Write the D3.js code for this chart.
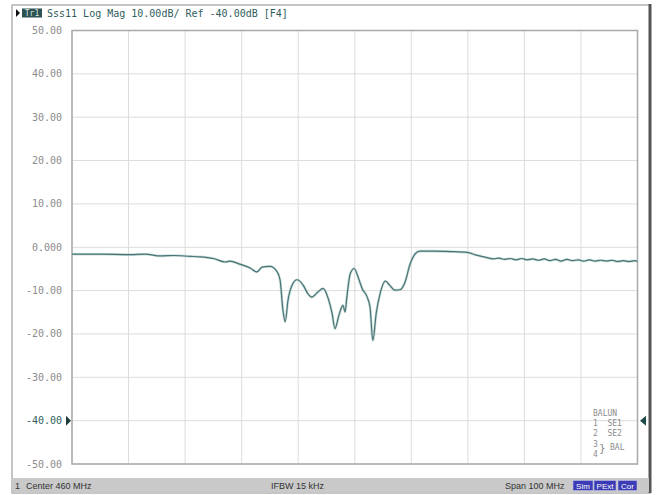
<!DOCTYPE html>
<html>
<head>
<meta charset="utf-8">
<script src="https://cdn.jsdelivr.net/npm/d3@7"></script>
<style>
  body { margin: 0; background: #fff; }
  text { font-family: "DejaVu Sans Mono", monospace; }
</style>
</head>
<body>
<div id="vis"></div>
<script>
// trace: frequency (MHz) and magnitude (dB)
let freqs = [410.0, 415.0, 420.3, 423.0, 425.6, 428.0, 430.9, 432.6, 435.0, 437.1, 437.9, 439.7,
  441.5, 442.7, 443.6, 445.0, 446.3, 446.8, 447.3, 447.7, 448.2, 448.9, 449.8, 450.9, 451.7,
  452.4, 453.5, 454.4, 455.3, 456.0, 456.5, 457.2, 457.9, 458.3, 458.6, 459.2, 459.9, 460.6,
  461.3, 462.2, 462.7, 463.2, 463.8, 464.5, 465.4, 466.2, 467.1, 468.0, 468.9, 469.8, 470.7,
  471.5, 473.8, 477.0, 479.9, 481.5, 483.4, 484.5, 485.5, 486.5, 487.5, 488.5, 489.5, 490.5,
  491.5, 492.5, 493.5, 494.5, 495.5, 496.5, 497.5, 498.5, 499.5, 500.5, 501.5, 502.5, 503.5,
  504.5, 505.5, 506.5, 507.5, 508.5, 509.5, 510.0];
let mags = [-1.6, -1.6, -1.7, -1.6, -2.0, -1.9, -2.1, -2.2, -2.6, -3.4, -3.2, -3.9,
  -4.8, -5.7, -4.6, -4.4, -5.7, -7.6, -14.5, -17.2, -12.2, -8.8, -7.5, -8.8, -10.7,
  -11.5, -10.3, -9.5, -11.8, -15.3, -18.8, -15.7, -13.4, -14.9, -11.5, -6.1, -4.9, -6.9,
  -9.5, -11.5, -13.8, -21.5, -15.2, -10.6, -7.8, -8.8, -9.9, -9.8, -8.0, -3.8, -1.5,
  -0.9, -0.9, -1.0, -1.2, -1.8, -2.4, -2.7, -2.5, -2.8, -2.6, -2.9, -2.6, -2.9,
  -2.7, -3.0, -2.7, -3.1, -2.8, -3.2, -2.8, -3.1, -2.9, -3.2, -2.9, -3.2, -3.0,
  -3.2, -3.0, -3.3, -3.1, -3.3, -3.1, -3.3];

let yTicks = [50, 40, 30, 20, 10, 0, -10, -20, -30, -40, -50];
let yTickLabels = ['50.00', '40.00', '30.00', '20.00', '10.00', '0.000', '-10.00', '-20.00', '-30.00', '-40.00', '-50.00'];
let xTicks = [410, 420, 430, 440, 450, 460, 470, 480, 490, 500, 510];
let refLevel = -40;
let legendLines = ['BALUN', '1  SE1', '2  SE2'];

let width = 656, height = 495;
let plot = { left: 72, right: 637.5, top: 30.5, bottom: 464 };

let svg = d3.select('#vis').append('svg')
  .attr('width', width)
  .attr('height', height);

// outer frame
svg.append('rect').attr('x', 12).attr('y', 5).attr('width', 638).attr('height', 488)
  .style('fill', '#fff').style('stroke', '#b4b4b4').style('stroke-width', 1.5);
svg.append('line').attr('x1', 650).attr('x2', 650).attr('y1', 4).attr('y2', 493)
  .style('stroke', '#555').style('stroke-width', 3);

let xScale = d3.scaleLinear().domain([410, 510]).range([plot.left, plot.right]);
let yScale = d3.scaleLinear().domain([-50, 50]).range([plot.bottom, plot.top]);

// grid
let grid = svg.append('g');
grid.selectAll('.vg').data(xTicks).enter().append('line')
  .attr('x1', d => xScale(d)).attr('x2', d => xScale(d))
  .attr('y1', plot.top).attr('y2', plot.bottom)
  .style('stroke', '#dcdcdc').style('stroke-width', 1);
grid.selectAll('.hg').data(yTicks).enter().append('line')
  .attr('x1', plot.left).attr('x2', plot.right)
  .attr('y1', d => yScale(d)).attr('y2', d => yScale(d))
  .style('stroke', '#dcdcdc').style('stroke-width', 1);
svg.append('rect')
  .attr('x', plot.left).attr('y', plot.top)
  .attr('width', plot.right - plot.left).attr('height', plot.bottom - plot.top)
  .style('fill', 'none').style('stroke', '#a8a8a8').style('stroke-width', 1.5);

// y labels
svg.selectAll('.yl').data(yTicks).enter().append('text')
  .attr('x', 62).attr('y', d => yScale(d) + 3.5)
  .attr('text-anchor', 'end')
  .style('font-size', '10px')
  .style('fill', d => d === refLevel ? '#2f5d5d' : '#8c8c8c')
  .text((d, i) => yTickLabels[i]);

// reference markers
let ry = yScale(refLevel);
svg.append('path')
  .attr('d', `M66,${ry - 5}L71,${ry}L66,${ry + 5}Z`)
  .style('fill', '#1e3c3c');
svg.append('path')
  .attr('d', `M646,${ry - 5}L640,${ry}L646,${ry + 5}Z`)
  .style('fill', '#1e4a4a');

// trace
let pts = freqs.map((f, i) => ({ x: f, y: mags[i] }));
let line = d3.line().x(d => xScale(d.x)).y(d => yScale(d.y)).curve(d3.curveMonotoneX);
svg.append('path').attr('d', line(pts))
  .style('fill', 'none').style('stroke', '#a9c2c2').style('stroke-width', 2.6).style('opacity', 0.6);
svg.append('path').attr('d', line(pts))
  .style('fill', 'none').style('stroke', '#477474').style('stroke-width', 1.2);

// title bar
svg.append('path').attr('d', 'M16,9L20,13L16,17Z').style('fill', '#111');
svg.append('rect').attr('x', 22).attr('y', 8.5).attr('width', 20).attr('height', 9)
  .style('fill', '#2e5252');
svg.append('text').attr('x', 32).attr('y', 16).attr('text-anchor', 'middle')
  .style('font-size', '8px').style('fill', '#d0e0e0').text('Tr1');
svg.append('text').attr('x', 47).attr('y', 17)
  .style('font-size', '10px').style('fill', '#2f5d5d')
  .text('Sss11 Log Mag 10.00dB/ Ref -40.00dB [F4]');

// legend box text
let lg = svg.append('g').style('font-size', '8px').style('fill', '#8c8c8c');
lg.selectAll('text').data(legendLines).enter().append('text')
  .attr('x', 593).attr('y', (d, i) => 416 + i * 10)
  .attr('xml:space', 'preserve')
  .text(d => d);
lg.append('text').attr('x', 593).attr('y', 446.5).text('3');
lg.append('text').attr('x', 593).attr('y', 456.5).text('4');
lg.append('text').attr('x', 599).attr('y', 452).style('font-size', '11px').text('}');
lg.append('text').attr('x', 610).attr('y', 450).text('BAL');

// status bar
svg.append('rect').attr('x', 12).attr('y', 478).attr('width', 637).attr('height', 14)
  .style('fill', '#c9c9c9');
let sb = svg.append('g').style('font-size', '9px').style('fill', '#333');
sb.append('text').attr('x', 15).attr('y', 488.5).style('font-family', '"Liberation Sans", sans-serif').text('1');
sb.append('text').attr('x', 26).attr('y', 488.5).style('font-family', '"Liberation Sans", sans-serif').text('Center 460 MHz');
sb.append('text').attr('x', 271).attr('y', 488.5).style('font-family', '"Liberation Sans", sans-serif').text('IFBW 15 kHz');
sb.append('text').attr('x', 505).attr('y', 488.5).style('font-family', '"Liberation Sans", sans-serif').text('Span 100 MHz');

let flags = [{ t: 'Sim', x: 573, w: 20 }, { t: 'PExt', x: 594, w: 22 }, { t: 'Cor', x: 618, w: 19 }];
flags.forEach(f => {
  svg.append('rect').attr('x', f.x).attr('y', 480.5).attr('width', f.w).attr('height', 10)
    .style('fill', '#3b3bb5').style('stroke', '#c0c0e8').style('stroke-width', 0.6);
  svg.append('text').attr('x', f.x + f.w / 2).attr('y', 488.5).attr('text-anchor', 'middle')
    .style('font-family', '"Liberation Sans", sans-serif')
    .style('font-size', '8px').style('fill', '#fff').text(f.t);
});
</script>
</body>
</html>
